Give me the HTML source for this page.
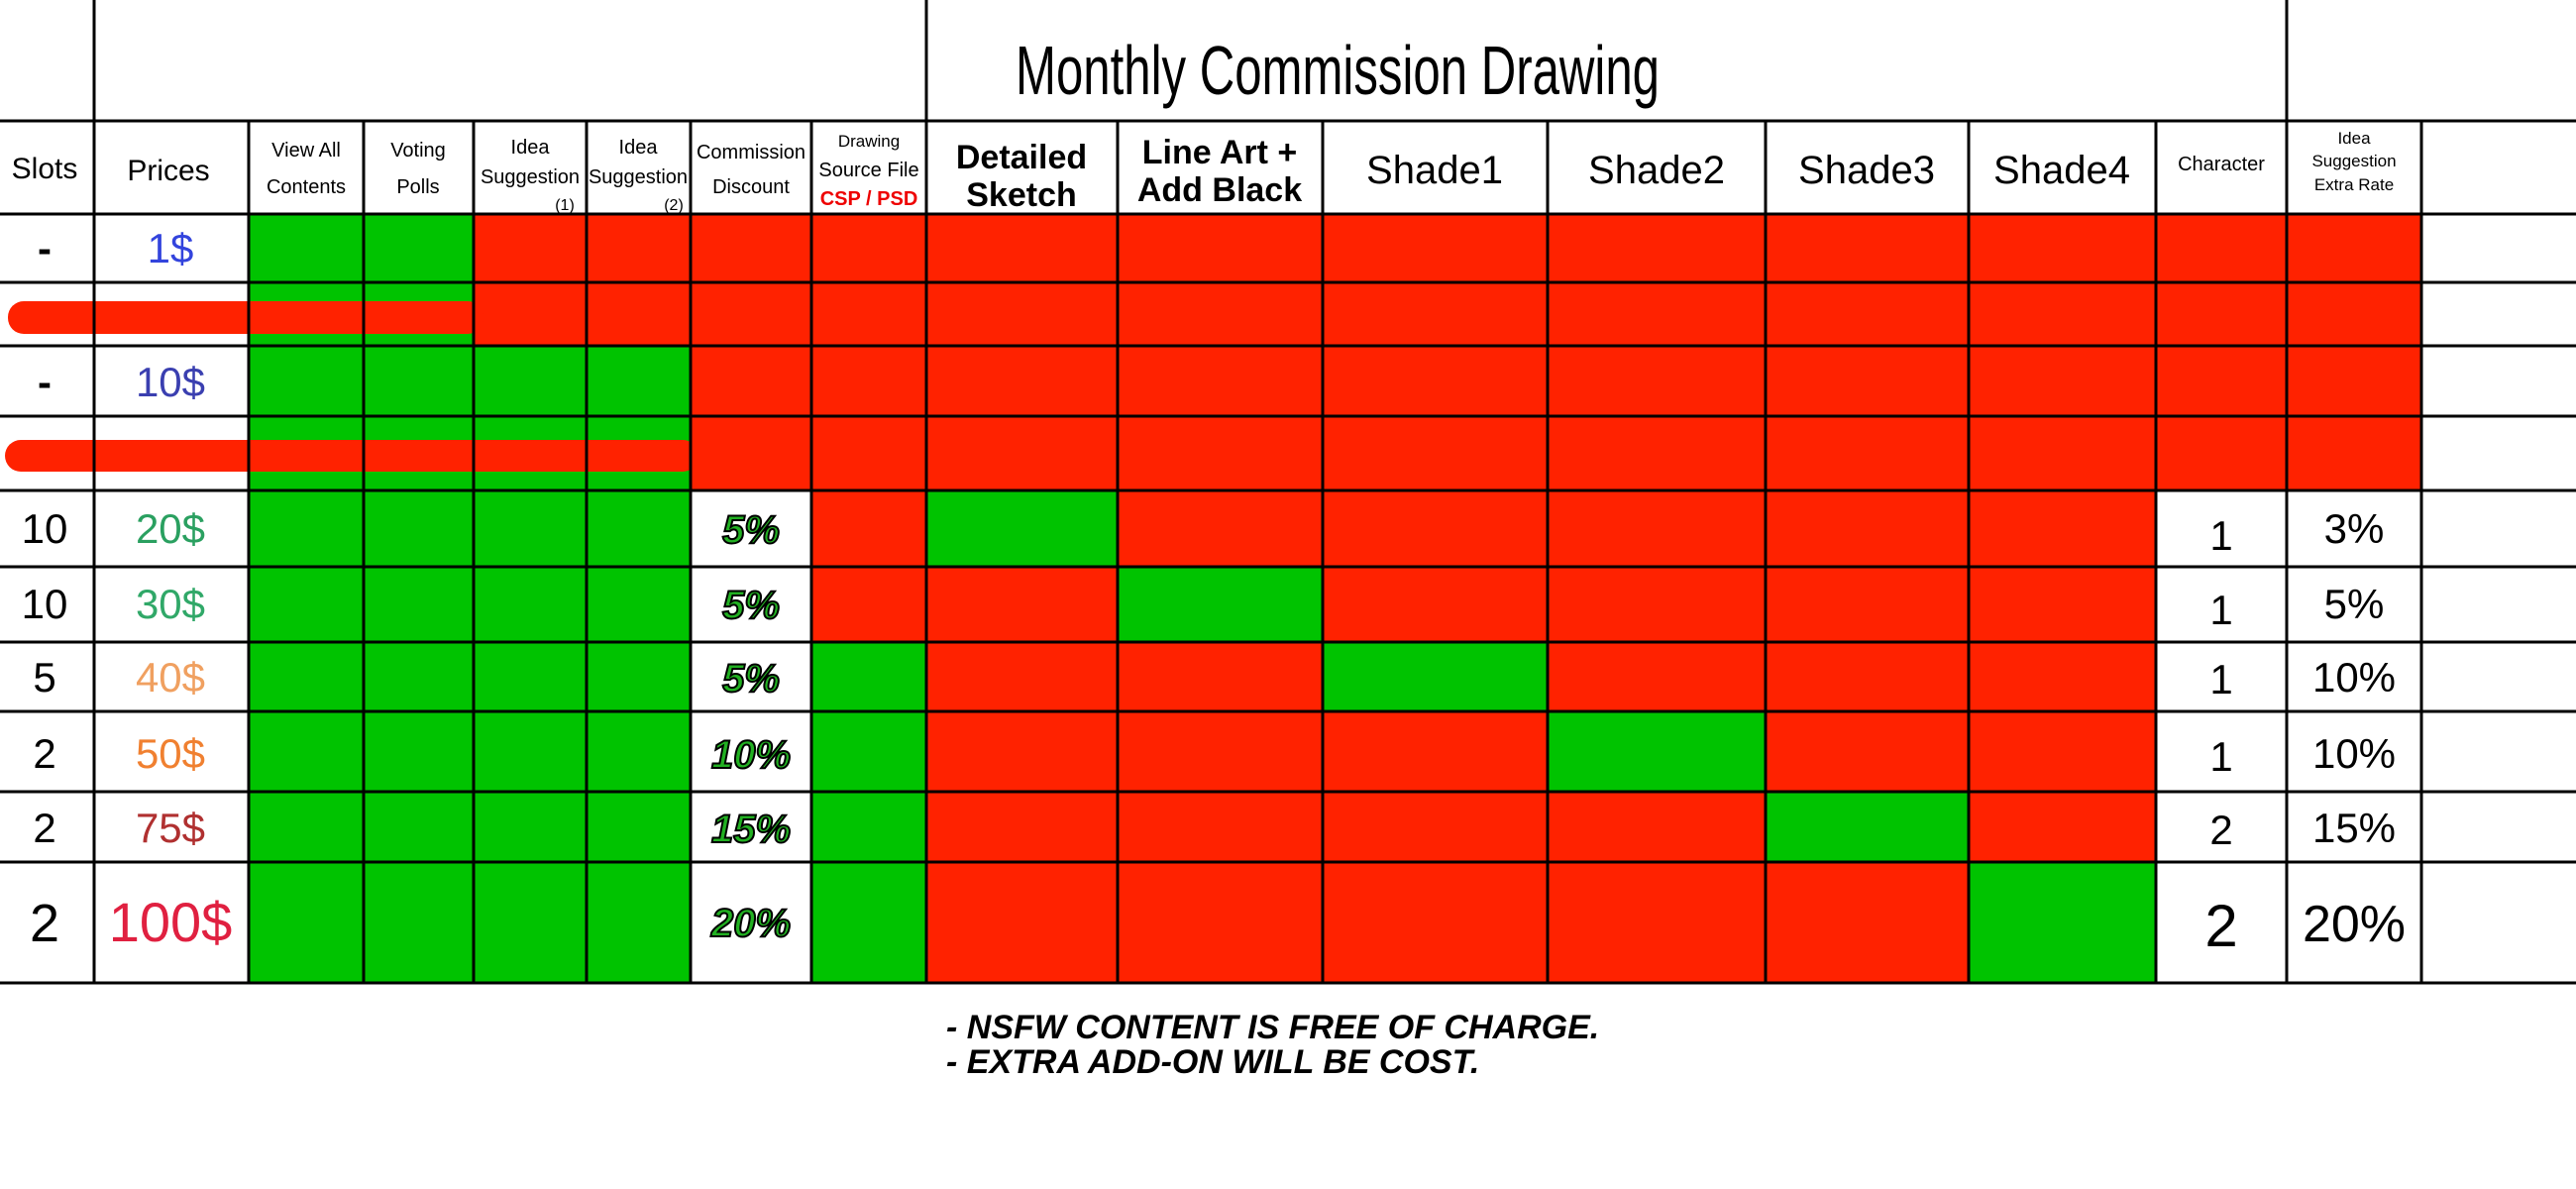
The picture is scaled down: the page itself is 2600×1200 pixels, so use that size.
<!DOCTYPE html>
<html><head><meta charset="utf-8"><style>
html,body{margin:0;padding:0;background:#fff;width:2600px;height:1200px;overflow:hidden}
svg{display:block}
text{font-family:"Liberation Sans",sans-serif;fill:#000}
.pct text{fill:#22b022;stroke:#000;stroke-width:2}
</style></head><body>
<svg width="2600" height="1200" viewBox="0 0 2600 1200" xmlns="http://www.w3.org/2000/svg">
<rect width="2600" height="1200" fill="#fff"/>
<g fill="#00c300">
<rect x="251" y="216" width="227" height="133"/>
<rect x="251" y="349" width="446" height="643"/>
<rect x="819" y="648" width="116" height="344"/>
<rect x="935" y="495" width="193" height="77"/>
<rect x="1128" y="572" width="207" height="76"/>
<rect x="1335" y="648" width="227" height="70"/>
<rect x="1562" y="718" width="220" height="81"/>
<rect x="1782" y="799" width="205" height="71"/>
<rect x="1987" y="870" width="189" height="122"/>
</g>
<g fill="#ff2200">
<rect x="478" y="216" width="1966" height="133"/>
<rect x="697" y="349" width="1747" height="146"/>
<rect x="819" y="495" width="116" height="153"/>
<rect x="1128" y="495" width="1048" height="77"/>
<rect x="935" y="572" width="193" height="420"/>
<rect x="1335" y="572" width="841" height="76"/>
<rect x="1128" y="648" width="207" height="344"/>
<rect x="1562" y="648" width="614" height="70"/>
<rect x="1335" y="718" width="227" height="274"/>
<rect x="1782" y="718" width="394" height="81"/>
<rect x="1562" y="799" width="220" height="193"/>
<rect x="1987" y="799" width="189" height="71"/>
<rect x="1782" y="870" width="205" height="122"/>
<rect x="8" y="304" width="480" height="33" rx="16"/>
<rect x="5" y="444" width="700" height="32" rx="16"/>
</g>
<g stroke="#000" stroke-width="3">
<line x1="0" y1="122" x2="2600" y2="122"/>
<line x1="0" y1="216" x2="2600" y2="216"/>
<line x1="0" y1="285" x2="2600" y2="285"/>
<line x1="0" y1="349" x2="2600" y2="349"/>
<line x1="0" y1="420" x2="2600" y2="420"/>
<line x1="0" y1="495" x2="2600" y2="495"/>
<line x1="0" y1="572" x2="2600" y2="572"/>
<line x1="0" y1="648" x2="2600" y2="648"/>
<line x1="0" y1="718" x2="2600" y2="718"/>
<line x1="0" y1="799" x2="2600" y2="799"/>
<line x1="0" y1="870" x2="2600" y2="870"/>
<line x1="0" y1="992" x2="2600" y2="992"/>
<line x1="95" y1="0" x2="95" y2="992"/>
<line x1="935" y1="0" x2="935" y2="992"/>
<line x1="2308" y1="0" x2="2308" y2="992"/>
<line x1="251" y1="122" x2="251" y2="992"/>
<line x1="367" y1="122" x2="367" y2="992"/>
<line x1="478" y1="122" x2="478" y2="992"/>
<line x1="592" y1="122" x2="592" y2="992"/>
<line x1="697" y1="122" x2="697" y2="992"/>
<line x1="819" y1="122" x2="819" y2="992"/>
<line x1="1128" y1="122" x2="1128" y2="992"/>
<line x1="1335" y1="122" x2="1335" y2="992"/>
<line x1="1562" y1="122" x2="1562" y2="992"/>
<line x1="1782" y1="122" x2="1782" y2="992"/>
<line x1="1987" y1="122" x2="1987" y2="992"/>
<line x1="2176" y1="122" x2="2176" y2="992"/>
<line x1="2444" y1="122" x2="2444" y2="992"/>
</g>
<text x="1350" y="95" font-size="70" text-anchor="middle" textLength="650" lengthAdjust="spacingAndGlyphs">Monthly Commission Drawing</text>
<g font-size="30" text-anchor="middle">
<text x="45" y="180">Slots</text>
<text x="170" y="182">Prices</text>
</g>
<g font-size="20" text-anchor="middle">
<text x="309" y="158">View All</text><text x="309" y="195">Contents</text>
<text x="422" y="158">Voting</text><text x="422" y="195">Polls</text>
<text x="535" y="155">Idea</text><text x="535" y="185">Suggestion</text><text x="570" y="212" font-size="16">(1)</text>
<text x="644" y="155">Idea</text><text x="644" y="185">Suggestion</text><text x="680" y="212" font-size="16">(2)</text>
<text x="758" y="160">Commission</text><text x="758" y="195">Discount</text>
<text x="877" y="148" font-size="17">Drawing</text><text x="877" y="178">Source File</text>
<text x="877" y="207" style="fill:#e00;font-weight:bold">CSP / PSD</text>
</g>
<g font-size="34" font-weight="bold" text-anchor="middle">
<text x="1031" y="170">Detailed</text><text x="1031" y="208">Sketch</text>
<text x="1231" y="165">Line Art +</text><text x="1231" y="203">Add Black</text>
</g>
<g font-size="40" text-anchor="middle">
<text x="1448" y="185">Shade1</text>
<text x="1672" y="185">Shade2</text>
<text x="1884" y="185">Shade3</text>
<text x="2081" y="185">Shade4</text>
<text x="2242" y="172" font-size="20">Character</text>
<text x="2376" y="145" font-size="17">Idea</text>
<text x="2376" y="168" font-size="17">Suggestion</text>
<text x="2376" y="192" font-size="17">Extra Rate</text>
</g>
<g font-size="42" text-anchor="middle">
<text x="45" y="265" font-weight="bold">-</text><text x="45" y="400" font-weight="bold">-</text>
<text x="45" y="548">10</text><text x="45" y="624">10</text><text x="45" y="698">5</text>
<text x="45" y="775">2</text><text x="45" y="850">2</text><text x="45" y="950" font-size="54">2</text>
<text x="172" y="265" style="fill:#3344dd">1$</text>
<text x="172" y="400" style="fill:#3a3fb0">10$</text>
<text x="172" y="548" style="fill:#2aa060">20$</text>
<text x="172" y="624" style="fill:#30a868">30$</text>
<text x="172" y="698" style="fill:#f0a060">40$</text>
<text x="172" y="775" style="fill:#f08030">50$</text>
<text x="172" y="850" style="fill:#b03030">75$</text>
<text x="172" y="950" font-size="56" style="fill:#e02040">100$</text>
</g>
<g class="pct" font-size="40" font-weight="bold" font-style="italic" text-anchor="middle">
<text x="758" y="548">5%</text><text x="758" y="624">5%</text><text x="758" y="698">5%</text>
<text x="758" y="775">10%</text><text x="758" y="850">15%</text><text x="758" y="945">20%</text>
</g>
<g font-size="42" text-anchor="middle">
<text x="2242" y="555">1</text><text x="2242" y="630">1</text><text x="2242" y="700">1</text>
<text x="2242" y="778">1</text><text x="2242" y="852">2</text><text x="2242" y="955" font-size="60">2</text>
<text x="2376" y="548">3%</text><text x="2376" y="624">5%</text><text x="2376" y="698">10%</text>
<text x="2376" y="775">10%</text><text x="2376" y="850">15%</text><text x="2376" y="950" font-size="52">20%</text>
</g>
<g font-size="34" font-weight="bold" font-style="italic">
<text x="955" y="1048">- NSFW CONTENT IS FREE OF CHARGE.</text>
<text x="955" y="1083">- EXTRA ADD-ON WILL BE COST.</text>
</g>
</svg>
</body></html>
